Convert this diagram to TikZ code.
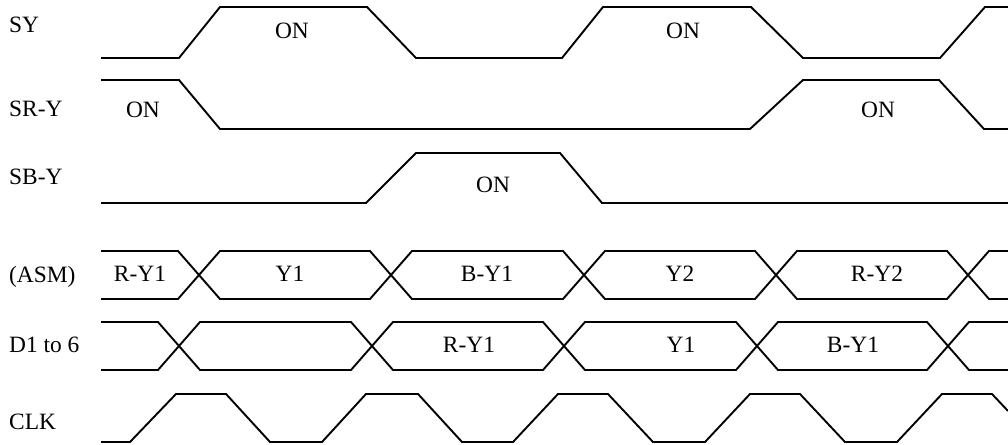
\documentclass[tikz,border=0pt]{standalone}
\usepackage{fontspec}
\setmainfont{Liberation Serif}
\usetikzlibrary{positioning}

\begin{document}
\begin{tikzpicture}[
		x=1bp, y=-1bp,
		every node/.style={inner sep=0pt, font=\fontsize{23.5}{28}\selectfont},
		signame/.style={anchor=base west},
		val/.style={anchor=base},
		wave/.style={line width=1.9bp, black}
	]
	\useasboundingbox (0,0) rectangle (1008,445);

	% signal names
	\node(lblSY)[signame] at (9,33) {SY};
	\node(lblSR)[signame] at (9,117) {SR-Y};
	\node(lblSB)[signame] at (9,185) {SB-Y};
	\node(lblASM)[signame] at (9,283) {(ASM)};
	\node(lblD)[signame] at (9,353) {D1 to 6};
	\node(lblCLK)[signame] at (9,429) {CLK};

	% SY
	\draw[wave] (101,58) -- (179,58) -- (220,7) -- (367,7) -- (416,58) -- (562,58) -- (603,7)
		-- (751,7) -- (803,58) -- (940,58) -- (985,7) -- (1008,7);
	\node(syon1)[val] at (292,39) {ON};
	\node(syon2)[val] at (683,39) {ON};

	% SR-Y
	\draw[wave] (101,80) -- (179,80) -- (220,129) -- (750,129) -- (803,80) -- (939,80)
		-- (984,129) -- (1008,129);
	\node(sron1)[val] at (143,118) {ON};
	\node(sron2)[val] at (878,118) {ON};

	% SB-Y
	\draw[wave] (101,203) -- (366,203) -- (416,153) -- (560,153) -- (602,203) -- (1008,203);
	\node(sbon)[val] at (493,193) {ON};

	% (ASM)
	\draw[wave] (101,251) -- (178,251) -- (220,299) -- (370,299) -- (412,251) -- (563,251)
		-- (605,299) -- (755,299) -- (797,251) -- (947,251) -- (989,299) -- (1008,299);
	\draw[wave] (101,299) -- (178,299) -- (220,251) -- (370,251) -- (412,299) -- (563,299)
		-- (605,251) -- (755,251) -- (797,299) -- (947,299) -- (989,251) -- (1008,251);
	\node(asm1)[val] at (140,282) {R-Y1};
	\node(asm2)[val] at (290,282) {Y1};
	\node(asm3)[val] at (487,282) {B-Y1};
	\node(asm4)[val] at (680,282) {Y2};
	\node(asm5)[val] at (877,282) {R-Y2};

	% D1 to 6
	\draw[wave] (101,322) -- (158,322) -- (200,370) -- (351,370) -- (393,322) -- (543,322)
		-- (585,370) -- (736,370) -- (778,322) -- (927,322) -- (969,370) -- (1008,370);
	\draw[wave] (101,370) -- (158,370) -- (200,322) -- (351,322) -- (393,370) -- (543,370)
		-- (585,322) -- (736,322) -- (778,370) -- (927,370) -- (969,322) -- (1008,322);
	\node(d2)[val] at (469,353) {R-Y1};
	\node(d3)[val] at (681,353) {Y1};
	\node(d4)[val] at (853,353) {B-Y1};

	% CLK
	\draw[wave] (101,442) -- (130,442) -- (176,394) -- (226,394) -- (270,442) -- (322,442)
		-- (366,394) -- (418,394) -- (462,442) -- (513,442) -- (558,394) -- (608,394)
		-- (653,442) -- (705,442) -- (750,394) -- (800,394) -- (845,442) -- (897,442)
		-- (942,394) -- (992,394) -- (1008,411);
\end{tikzpicture}
\end{document}
